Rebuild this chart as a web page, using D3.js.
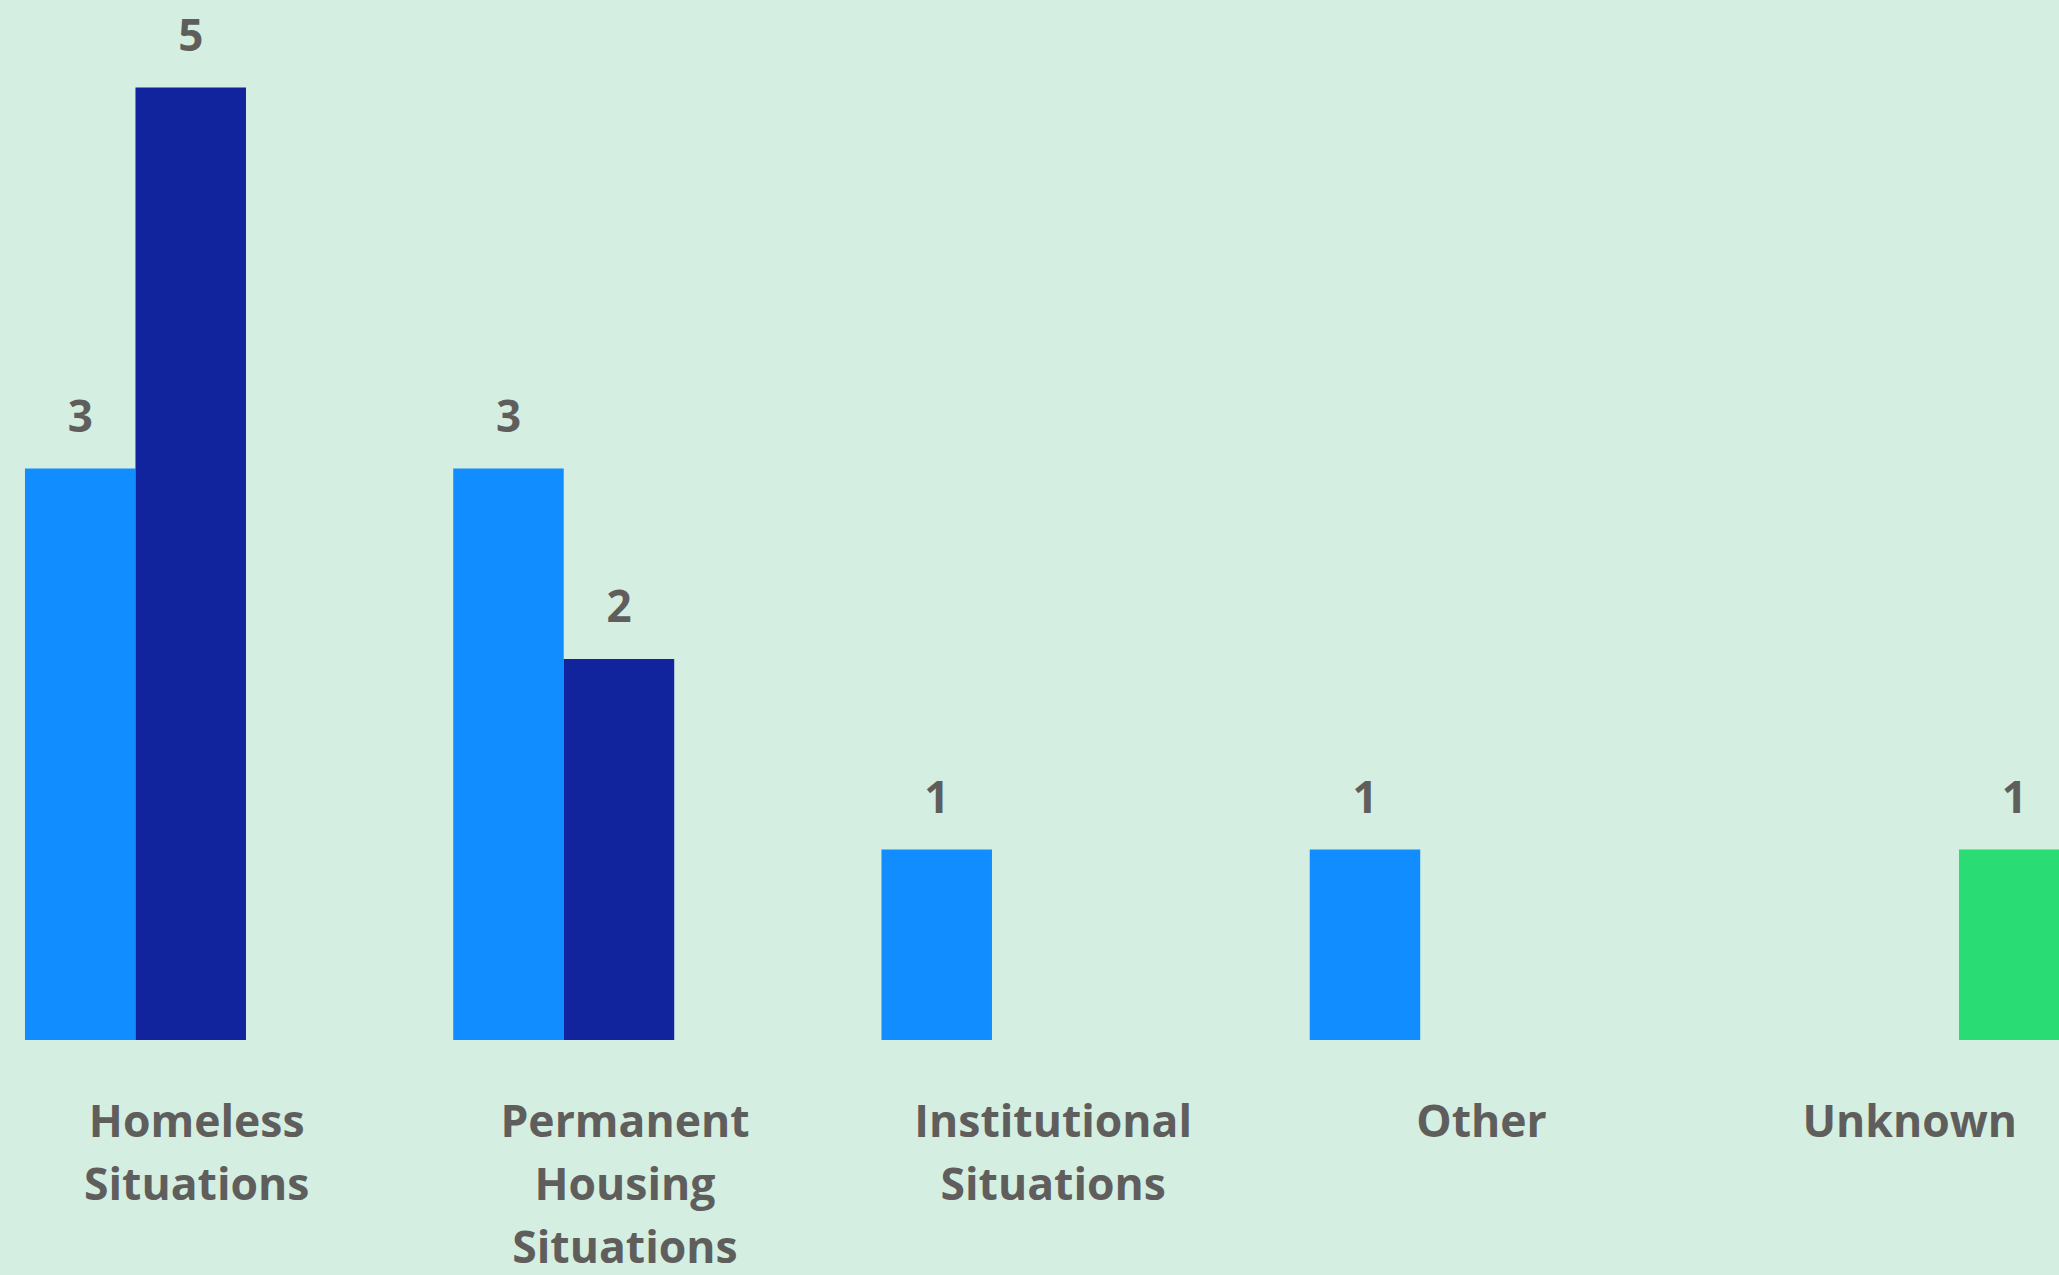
<!DOCTYPE html>
<html>
<head>
<meta charset="utf-8">
<script src="https://cdn.jsdelivr.net/npm/d3@7"></script>
<style>
  html, body { margin: 0; padding: 0; background: #d4efe1; overflow: hidden; }
  svg { display: block; }
  text { font-family: "Open Sans", "Noto Sans", sans-serif; font-weight: 700; fill: #605e5c; }
</style>
</head>
<body>
<svg id="chart"></svg>
<script>
// chart data
var categories = ["Homeless Situations", "Permanent Housing Situations", "Institutional Situations", "Other", "Unknown"];
var seriesNames = ["Series 1", "Series 2", "Series 3"];
var series1 = [3, 3, 1, 1, null];
var series2 = [5, 2, null, null, null];
var series3 = [null, null, null, null, 1];
var seriesColors = ["#118dff", "#12239e", "#29dc74"];

var width = 2059,
  height = 1275,
  baseline = 1040;

var svg = d3.select("#chart").attr("width", width).attr("height", height);

// group scale, last group runs off the right edge like the original
var x0 = d3.scaleBand()
  .domain(categories)
  .range([-23.4, -23.4 + 428.25 * categories.length])
  .paddingInner(0.2259)
  .paddingOuter(0.11295);

var x1 = d3.scaleBand()
  .domain(seriesNames)
  .range([0, x0.bandwidth()]);

var y = d3.scaleLinear().domain([0, 5]).range([baseline, 87.5]);

var allSeries = [series1, series2, series3];
var bars = [];
categories.forEach(function(cat, i) {
  allSeries.forEach(function(s, j) {
    if (s[i] != null) bars.push({ cat: cat, name: seriesNames[j], value: s[i], color: seriesColors[j] });
  });
});

svg.append("g").selectAll("rect").data(bars).enter().append("rect")
  .attr("x", function(d) { return x0(d.cat) + x1(d.name); })
  .attr("y", function(d) { return y(d.value); })
  .attr("width", x1.bandwidth())
  .attr("height", function(d) { return baseline - y(d.value); })
  .attr("fill", function(d) { return d.color; });

// value labels
svg.append("g").selectAll("text").data(bars).enter().append("text")
  .attr("x", function(d) { return x0(d.cat) + x1(d.name) + x1.bandwidth() / 2; })
  .attr("y", function(d) { return y(d.value) - 37; })
  .attr("text-anchor", "middle")
  .style("font-size", "44px")
  .text(function(d) { return d.value; });

// category labels, one word per line
var labels = svg.append("g").selectAll("text").data(categories).enter().append("text")
  .attr("x", function(d) { return x0(d) + x0.bandwidth() / 2 + 6; })
  .attr("y", 1137)
  .attr("text-anchor", "middle")
  .style("font-size", "44.5px");

labels.each(function(d) {
  var t = d3.select(this);
  var cx = t.attr("x");
  d.split(" ").forEach(function(word, k) {
    t.append("tspan").attr("x", cx).attr("dy", k === 0 ? 0 : 63).text(word);
  });
});
</script>
</body>
</html>
